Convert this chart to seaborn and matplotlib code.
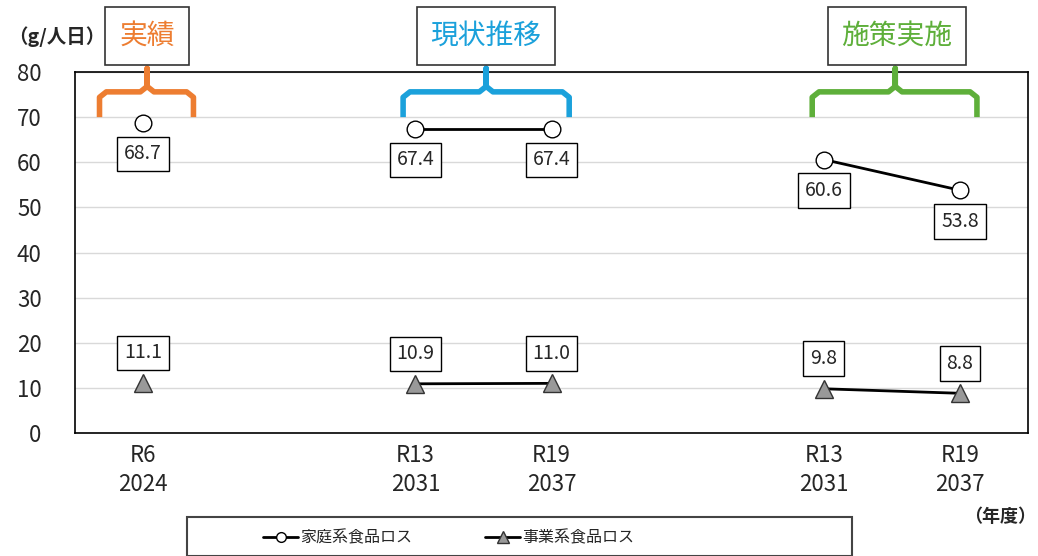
import numpy as np
import pandas as pd
import matplotlib
matplotlib.use('Agg')
import matplotlib.pyplot as plt
from matplotlib.lines import Line2D
from matplotlib.patches import Rectangle
import seaborn as sns

sns.set_style('white')
plt.rcParams['font.family'] = ['Noto Sans CJK JP', 'DejaVu Sans']
NUM_FONT = ['Noto Sans CJK JP', 'DejaVu Sans']

# data (slots 1 and 4 are empty spacers)
reiwa = ['R6', '', 'R13', 'R19', '', 'R13', 'R19']
years = ['2024', '', '2031', '2037', '', '2031', '2037']
phase = ['実績', None, '現状推移', '現状推移', None, '施策実施', '施策実施']
household = [68.7, np.nan, 67.4, 67.4, np.nan, 60.6, 53.8]
business = [11.1, np.nan, 10.9, 11.0, np.nan, 9.8, 8.8]
phase_names = ['実績', '現状推移', '施策実施']
phase_colors = ['#ED7D31', '#1BA1DB', '#5EAF3A']

df = pd.DataFrame({'pos': range(len(reiwa)), 'phase': phase,
                   'household': household, 'business': business}).dropna()

fig = plt.figure(figsize=(10.38, 5.56), dpi=100)
ax = fig.add_axes([75/1038, 1-433/556, 953/1038, 361/556])

sns.lineplot(data=df, x='pos', y='household', units='phase', estimator=None,
             color='black', lw=2, marker='o', markersize=12,
             markerfacecolor='white', markeredgecolor='black', markeredgewidth=1,
             ax=ax, zorder=3)
sns.lineplot(data=df, x='pos', y='business', units='phase', estimator=None,
             color='black', lw=2, marker='^', markersize=13,
             markerfacecolor='#999999', markeredgecolor='#333333', markeredgewidth=1,
             ax=ax, zorder=3)

box = dict(boxstyle='square,pad=0.35', fc='white', ec='black', lw=1)
for p, v in zip(df['pos'], df['household']):
    ax.annotate(f'{v:.1f}', (p, v), xytext=(0, -31), textcoords='offset pixels',
                ha='center', va='center', fontsize=14, family=NUM_FONT, bbox=box, zorder=4)
for p, v in zip(df['pos'], df['business']):
    ax.annotate(f'{v:.1f}', (p, v), xytext=(0, 30), textcoords='offset pixels',
                ha='center', va='center', fontsize=14, family=NUM_FONT, bbox=box, zorder=4)

ax.set_xlim(-0.5, len(reiwa) - 0.5)
ax.set_ylim(0, 80)
ax.set_yticks(range(0, 81, 10))
ax.yaxis.grid(True, color='#d9d9d9', lw=1)
ax.set_xticks(range(len(reiwa)))
ax.set_xticklabels([f'{r}\n{y}' if r else '' for r, y in zip(reiwa, years)],
                   fontsize=16, family=NUM_FONT, linespacing=1.3)
for t in ax.get_yticklabels():
    t.set_family(NUM_FONT)
    t.set_fontsize(16)
ax.tick_params(axis='both', length=0)
ax.tick_params(axis='y', pad=24)
ax.tick_params(axis='x', pad=8)
ax.set_xlabel('')
ax.set_ylabel('')
for s in ax.spines.values():
    s.set_color('black')
    s.set_linewidth(1.2)

# curly brackets + phase titles
def bracket(ax, x0, x1, xc, color):
    yb, ym, yt, r = 70, 75.6, 80.8, 1.2
    rx = 0.05
    xs = [x0, x0, x0 + rx, xc - rx, xc, xc, xc, xc + rx, x1 - rx, x1, x1]
    ys = [yb, ym - r, ym, ym, ym + r, yt, ym + r, ym, ym, ym - r, yb]
    ax.plot(xs, ys, color=color, lw=4, clip_on=False, zorder=5,
            solid_joinstyle='round', solid_capstyle='butt')

bracket(ax, -0.32, 0.37, 0.03, phase_colors[0])
bracket(ax, 1.91, 3.13, 2.52, phase_colors[1])
bracket(ax, 4.915, 6.125, 5.525, phase_colors[2])

title_x = [147, 486, 897]
for name, c, x in zip(phase_names, phase_colors, title_x):
    fig.text(x/1038, 1-36/556, name, color=c, fontsize=20, ha='center', va='center',
             bbox=dict(boxstyle='square,pad=0.5', fc='white', ec='#333333', lw=1.2))

fig.text(8/1038, 1-37/556, '（g/人日）', fontsize=14, fontweight='bold', ha='left', va='center')
fig.text(1036/1038, 1-517/556, '（年度）', fontsize=13, fontweight='bold', ha='right', va='center')

# legend: frame drawn separately to match the wide, clipped box
fig.patches.append(Rectangle((187/1038, 0), 665/1038, 39/556, transform=fig.transFigure,
                             fc='white', ec='#444444', lw=1.5, zorder=1))
handles = [Line2D([], [], color='black', lw=2, marker='o', markersize=7,
                  markerfacecolor='white', markeredgecolor='black'),
           Line2D([], [], color='black', lw=2, marker='^', markersize=8,
                  markerfacecolor='#999999', markeredgecolor='#333333')]
leg = fig.legend(handles, ['家庭系食品ロス', '事業系食品ロス'], loc='center left',
                 bbox_to_anchor=(263/1038, 1-538/556), ncol=2, fontsize=11.5,
                 frameon=False, handlelength=2.2, handletextpad=0.1,
                 columnspacing=4.6, borderpad=0, borderaxespad=0)

fig.savefig('out.png', dpi=100)
